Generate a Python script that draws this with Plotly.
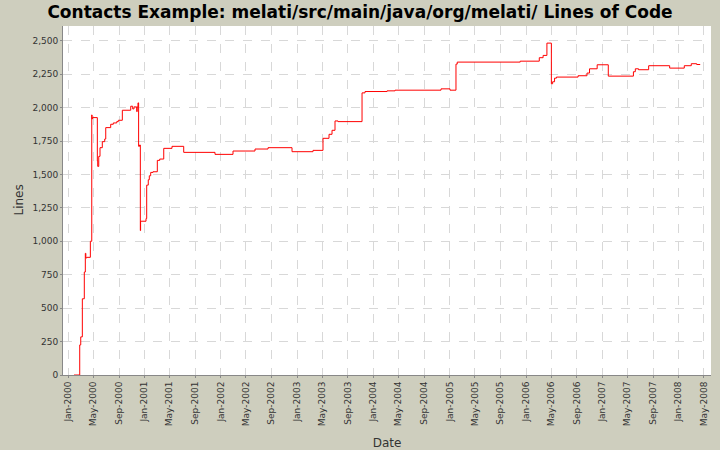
import plotly.graph_objects as go
import pandas as pd

months_since_jan2000 = [0.94, 1.84, 2.0, 2.25, 2.56, 2.72, 2.8, 2.94, 3.51, 3.73, 3.77, 3.82, 4.61, 4.67, 4.83, 5.03, 5.39, 5.77, 5.93,
    6.71, 7.12, 7.66, 7.91, 8.54, 9.86, 10.17, 10.38, 10.8, 10.88, 11.0, 11.1, 11.24, 11.37, 11.41, 12.26, 12.37, 12.62, 12.78, 13.0,
    13.36, 14.04, 14.42, 15.05, 16.35, 18.19, 23.11, 25.94, 29.4, 31.45, 35.22, 38.52, 40.09, 41.04, 41.51, 41.98, 42.45, 46.23, 46.7,
    50.16, 51.42, 58.65, 60.06, 61.0, 61.2, 71.1, 74.1, 74.7, 75.3, 76.0, 76.2, 76.5, 76.8, 80.2, 81.6, 82.0, 83.2, 84.95, 88.9, 89.2,
    89.7, 91.3, 94.6, 96.9, 98.0, 98.85, 99.4]
lines = [0, 225, 285, 570, 770, 910, 875, 880, 1000, 1945, 1915, 1925, 1600, 1560, 1635, 1700, 1745, 1765, 1850,
    1875, 1885, 1895, 1905, 1980, 2010, 1990, 2005, 1970, 2005, 2035, 1710, 1720, 1080, 1150, 1170, 1420, 1460, 1490, 1515,
    1520, 1605, 1615, 1695, 1710, 1665, 1650, 1675, 1690, 1700, 1670, 1680, 1770, 1800, 1830, 1900, 1895, 2110, 2120,
    2125, 2130, 2140, 2130, 2325, 2340, 2347, 2373, 2390, 2482, 2178, 2193, 2220, 2228, 2238, 2258, 2290, 2320, 2235, 2268, 2290,
    2283, 2313, 2295, 2313, 2328, 2322, 2322]

base = pd.Timestamp("2000-01-01")
dates = [base + pd.Timedelta(days=m * 30.44) for m in months_since_jan2000]

tick_dates = pd.date_range("2000-01-01", "2008-05-01", freq="4MS")
tick_text = [d.strftime("%b-%Y") for d in tick_dates]
y_ticks = list(range(0, 2501, 250))

fig = go.Figure(go.Scatter(x=dates, y=lines, mode="lines", line=dict(shape="hv", color="#ff0000", width=1)))
grid = dict(showgrid=True, gridcolor="#d8d8d8", griddash="dash", gridwidth=1, automargin=False)
fig.update_layout(
    width=720, height=450, paper_bgcolor="#cecebe", plot_bgcolor="#ffffff",
    margin=dict(l=63, r=9, t=26, b=75),
    font=dict(family="DejaVu Sans", size=9, color="#333333"),
    title=dict(text="<b>Contacts Example: melati/src/main/java/org/melati/ Lines of Code</b>",
               x=0.5, xanchor="center", y=0.973, yanchor="middle", font=dict(size=17, color="#000000")),
    showlegend=False,
    xaxis=dict(**grid, tickvals=list(tick_dates), ticktext=tick_text, tickangle=-90,
               range=[base + pd.Timedelta(days=-0.79 * 30.44), base + pd.Timedelta(days=101.1 * 30.44)],
               ticks="outside", ticklen=2, tickcolor="#888888", showline=True, linecolor="#888888",
               title=dict(text="Date", font=dict(size=12, color="#333333"), standoff=50)),
    yaxis=dict(**grid, tickvals=y_ticks, ticktext=[f"{v:,}" for v in y_ticks], range=[0, 2610],
               ticks="outside", ticklen=2, tickcolor="#888888", showline=True, linecolor="#888888",
               zeroline=False),
    annotations=[dict(text="Lines", textangle=-90, xref="paper", yref="paper", x=-45 / 648, y=0.5,
                      xanchor="center", yanchor="middle", showarrow=False,
                      font=dict(size=12, color="#333333"))],
)
fig.write_html("out.html", config={"displayModeBar": False})
with open("out.html", encoding="utf-8") as f:
    html = f.read()
html = html.replace("<head>", "<head><style>html,body{margin:0;padding:0;overflow:hidden}</style>", 1)
with open("out.html", "w", encoding="utf-8") as f:
    f.write(html)
